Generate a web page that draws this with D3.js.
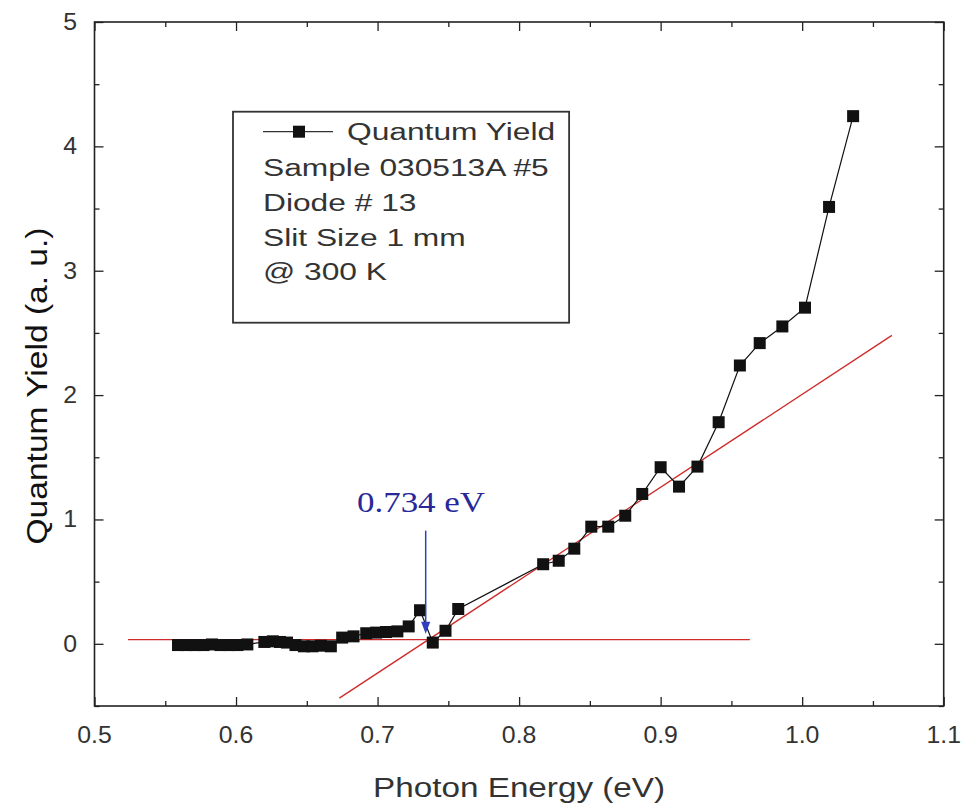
<!DOCTYPE html>
<html>
<head>
<meta charset="utf-8">
<script src="https://cdn.jsdelivr.net/npm/d3@7"></script>
<style>
  body { margin: 0; background: #fff; }
  svg { display: block; font-family: "Liberation Sans", Arial, sans-serif; }
</style>
</head>
<body>
<svg id="chart" width="964" height="806"></svg>
<script>
// photon energy (eV) and quantum yield (a.u.)
const energy = [
  0.559, 0.565, 0.571, 0.577, 0.583, 0.589, 0.595, 0.601, 0.608,
  0.620, 0.626, 0.631, 0.636,
  0.642, 0.648, 0.654, 0.660, 0.667,
  0.675, 0.683, 0.692, 0.699, 0.706, 0.714,
  0.722, 0.730, 0.739, 0.748, 0.757,
  0.817, 0.828, 0.839, 0.851, 0.863, 0.875, 0.887, 0.900, 0.913, 0.926,
  0.941, 0.956, 0.970, 0.986, 1.002, 1.019, 1.036
];
const quantumYield = [
  -0.01, -0.01, -0.01, -0.01, -0.005, -0.01, -0.01, -0.01, -0.005,
  0.015, 0.02, 0.015, 0.01,
  -0.01, -0.02, -0.02, -0.015, -0.02,
  0.05, 0.06, 0.085, 0.09, 0.095, 0.10,
  0.14, 0.27, 0.01, 0.105, 0.28,
  0.64, 0.668, 0.765, 0.942, 0.942, 1.03, 1.205, 1.42, 1.264, 1.425,
  1.782, 2.238, 2.418, 2.552, 2.703, 3.513, 4.243
];

// linear fits (red lines)
const baseFitX = [0.5237, 0.963];
const baseFitY = [0.033, 0.033];
const slopeFitX = [0.673, 1.0634];
const slopeFitY = [-0.437, 2.48];

// onset marker
const onsetEnergy = 0.734;
const onsetLabel = "0.734 eV";
const onsetArrowY = [0.91, 0.08];

// axes
const xMajor = [0.5, 0.6, 0.7, 0.8, 0.9, 1.0, 1.1];
const xLabels = ["0.5", "0.6", "0.7", "0.8", "0.9", "1.0", "1.1"];
const xMinor = [0.55, 0.65, 0.75, 0.85, 0.95, 1.05];
const yMajor = [0, 1, 2, 3, 4, 5];
const yLabels = ["0", "1", "2", "3", "4", "5"];
const yMinor = [-0.5, 0.5, 1.5, 2.5, 3.5, 4.5];

const legendLines = ["Quantum Yield", "Sample 030513A #5", "Diode # 13", "Slit Size 1 mm", "@ 300 K"];

const svg = d3.select("#chart");
const pLeft = 94.5, pRight = 943.7, pTop = 22, pBottom = 706;

const x = d3.scaleLinear().domain([0.5, 1.1]).range([pLeft, pRight]);
const y = d3.scaleLinear().domain([-0.5, 5]).range([pBottom, pTop]);

// ticks on all four sides, pointing inward
function ticks(axisFn, vals, size, transform) {
  const g = svg.append("g").attr("transform", transform)
    .call(axisFn.tickValues(vals).tickSize(-size).tickFormat(""));
  g.select(".domain").remove();
  g.selectAll(".tick line").attr("stroke", "#222").attr("stroke-width", 1.3);
}
ticks(d3.axisBottom(x), xMajor, 9, `translate(0,${pBottom})`);
ticks(d3.axisBottom(x), xMinor, 5, `translate(0,${pBottom})`);
ticks(d3.axisTop(x), xMajor, 9, `translate(0,${pTop})`);
ticks(d3.axisTop(x), xMinor, 5, `translate(0,${pTop})`);
ticks(d3.axisLeft(y), yMajor, 9, `translate(${pLeft},0)`);
ticks(d3.axisLeft(y), yMinor, 5, `translate(${pLeft},0)`);
ticks(d3.axisRight(y), yMajor, 9, `translate(${pRight},0)`);
ticks(d3.axisRight(y), yMinor, 5, `translate(${pRight},0)`);

svg.append("rect")
  .attr("x", pLeft).attr("y", pTop)
  .attr("width", pRight - pLeft).attr("height", pBottom - pTop)
  .attr("fill", "none").attr("stroke", "#222").attr("stroke-width", 1.6);

// tick labels
svg.append("g").selectAll("text").data(xMajor).join("text")
  .attr("transform", d => `translate(${x(d)},742.7) scale(1.08,1)`)
  .attr("text-anchor", "middle")
  .attr("font-size", 23).attr("fill", "#333")
  .text((d, i) => xLabels[i]);

svg.append("g").selectAll("text").data(yMajor).join("text")
  .attr("transform", d => `translate(77,${y(d) + 8}) scale(1.08,1)`)
  .attr("text-anchor", "end")
  .attr("font-size", 23).attr("fill", "#333")
  .text((d, i) => yLabels[i]);

// axis titles
svg.append("text")
  .attr("x", (pLeft + pRight) / 2).attr("y", 796.7)
  .attr("text-anchor", "middle")
  .attr("font-size", 27).attr("fill", "#333")
  .attr("textLength", 292).attr("lengthAdjust", "spacingAndGlyphs")
  .text("Photon Energy (eV)");

svg.append("text")
  .attr("transform", "translate(47,386) rotate(-90)")
  .attr("text-anchor", "middle")
  .attr("font-size", 29).attr("fill", "#111")
  .attr("textLength", 317).attr("lengthAdjust", "spacingAndGlyphs")
  .text("Quantum Yield (a. u.)");

// fit lines
const line = d3.line().x(d => x(d[0])).y(d => y(d[1]));
svg.append("path")
  .attr("d", line(d3.zip(baseFitX, baseFitY)))
  .attr("stroke", "#d02a2a").attr("stroke-width", 1.3).attr("fill", "none");
svg.append("path")
  .attr("d", line(d3.zip(slopeFitX, slopeFitY)))
  .attr("stroke", "#d02a2a").attr("stroke-width", 1.3).attr("fill", "none");

// data
const pts = d3.zip(energy, quantumYield);
svg.append("path")
  .attr("d", line(pts))
  .attr("stroke", "#111").attr("stroke-width", 1.2).attr("fill", "none");
const sq = 12;
svg.append("g").selectAll("rect").data(pts).join("rect")
  .attr("x", d => x(d[0]) - sq / 2).attr("y", d => y(d[1]) - sq / 2)
  .attr("width", sq).attr("height", sq)
  .attr("fill", "#111");

// onset arrow + label
const ax = x(onsetEnergy);
const tipY = y(onsetArrowY[1]);
svg.append("line")
  .attr("x1", ax).attr("x2", ax)
  .attr("y1", y(onsetArrowY[0])).attr("y2", tipY - 8)
  .attr("stroke", "#2f3fbf").attr("stroke-width", 1.5);
svg.append("path")
  .attr("d", `M${ax - 4.5},${tipY - 12}L${ax + 4.5},${tipY - 12}L${ax},${tipY}Z`)
  .attr("fill", "#2f3fbf");
svg.append("text")
  .attr("x", 357).attr("y", 511.7)
  .attr("font-family", "'Liberation Serif', 'Times New Roman', serif")
  .attr("font-size", 30).attr("fill", "#28289a")
  .attr("textLength", 128).attr("lengthAdjust", "spacingAndGlyphs")
  .text(onsetLabel);

// legend
const legend = svg.append("g");
const rowY = [131.7, 168, 203, 238, 272];
const lg = legend.selectAll("text").data(legendLines).join("text")
  .attr("transform", (d, i) => `translate(${i === 0 ? 347 : 263},${rowY[i] + 8}) scale(1.38,1)`)
  .attr("font-size", 23).attr("fill", "#333")
  .text(d => d);
let maxRight = 0;
lg.each(function (d, i) {
  const w = this.getComputedTextLength() * 1.38;
  maxRight = Math.max(maxRight, (i === 0 ? 347 : 263) + w);
});
legend.insert("rect", "text")
  .attr("x", 233).attr("y", 111.7)
  .attr("width", maxRight + 14 - 233).attr("height", 211)
  .attr("fill", "#fff").attr("stroke", "#333").attr("stroke-width", 1.8);
legend.append("line")
  .attr("x1", 263).attr("x2", 333).attr("y1", rowY[0]).attr("y2", rowY[0])
  .attr("stroke", "#333").attr("stroke-width", 1.3);
legend.append("rect")
  .attr("x", 299 - 6).attr("y", rowY[0] - 6).attr("width", 12).attr("height", 12)
  .attr("fill", "#111");
</script>
</body>
</html>
